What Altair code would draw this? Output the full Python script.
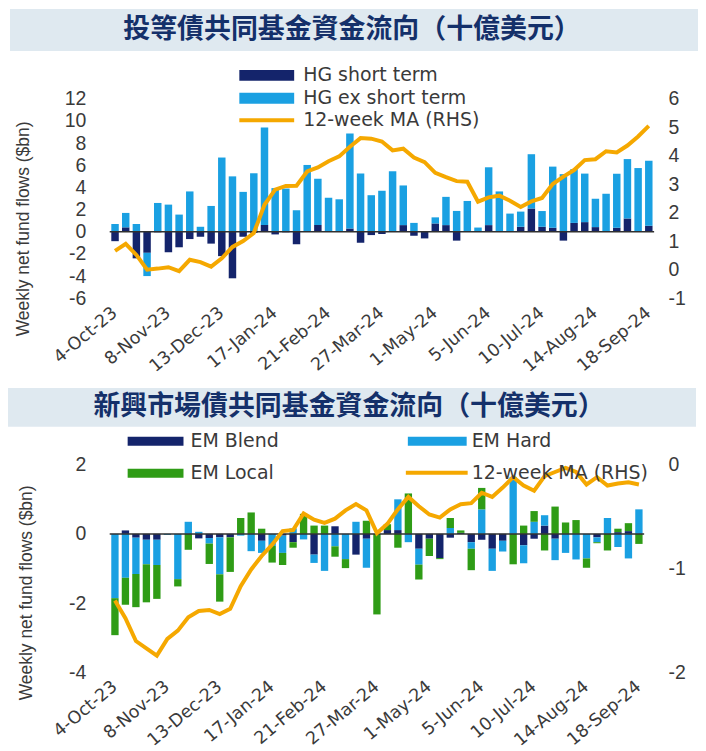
import altair as alt
import pandas as pd

# ---------------- data ----------------
start = pd.Timestamp("2023-10-04")
dates = [start + pd.Timedelta(weeks=i) for i in range(51)]
date_labels = [f"{d.day}-{d.strftime('%b-%y')}" for d in dates]
tick_labels = date_labels[::5]

title_top = "投等債共同基金資金流向（十億美元）"
title_bottom = "新興市場債共同基金資金流向（十億美元）"
y_title = "Weekly net fund flows ($bn)"
ma_label = "12-week MA (RHS)"

hg_series = ["HG short term", "HG ex short term"]
hg_short = [-0.85, 0.4, -2.4, -1.9, -0.05, -1.85, -1.4, -0.66, -0.45, -1.07,
            -2.2, -4.2, -0.45, -0.1, 0.6, -0.24, -0.05, -1.13, 0.0, 0.6,
            0.0, 0.0, 0.3, -1.0, -0.3, -0.2, 0.0, 0.6, -0.36, -0.6,
            0.75, 0.6, -0.8, 0.0, 0.05, 0.6, 0.0, 0.0, 0.45, 2.1,
            0.45, 0.36, -0.8, 0.8, 0.87, 0.42, 0.05, 0.36, 1.2, 0.05, 0.54]
hg_ex = [0.7, 1.3, 0.7, -2.1, 2.6, 2.45, 1.55, 3.64, 0.45, 2.33,
         6.7, 5.0, 3.6, 5.28, 8.8, 3.94, 3.9, 1.94, 6.03, 4.18,
         3.07, 2.93, 8.57, 5.25, 3.3, 3.7, 5.46, 3.58, 0.8, 0.0,
         0.55, 2.55, 1.88, 2.78, 0.33, 5.22, 3.64, 1.64, 1.37, 4.9,
         1.42, 5.52, 5.2, 4.85, 4.38, 2.56, 3.38, 4.88, 5.36, 5.7, 5.87]
hg_ma = [0.66, 0.91, 0.52, 0.0, 0.04, 0.09, -0.05, 0.35, 0.27, 0.11,
         0.40, 0.80, 1.01, 1.29, 2.28, 2.81, 2.94, 2.95, 3.45, 3.59,
         3.81, 3.98, 4.32, 4.62, 4.60, 4.50, 4.19, 4.25, 3.94, 3.78,
         3.40, 3.25, 3.11, 3.09, 2.39, 2.54, 2.60, 2.42, 2.20, 2.40,
         2.52, 3.01, 3.27, 3.50, 3.85, 3.88, 4.16, 4.12, 4.36, 4.68, 5.05]

em_series = ["EM Blend", "EM Hard", "EM Local"]
em_blend = [0.0, 0.1, -0.11, -0.17, -0.17, 0.0, 0.0, 0.0, -0.13, -0.12,
            -0.1, -0.1, 0.0, 0.0, -0.2, 0.0, -0.05, -0.24, 0.0, -0.6,
            0.0, 0.22, 0.0, -0.6, -0.14, 0.0, 0.11, 0.11, 0.0, -0.43,
            -0.14, -0.7, -0.11, 0.03, -0.24, -0.17, -0.43, -0.2, 0.0, -0.33,
            -0.14, 0.24, -0.14, 0.0, 0.0, 0.0, -0.1, 0.0, 0.05, 0.08, 0.0]
em_hard = [-1.86, -1.27, -1.05, -0.71, -0.73, -0.03, -1.31, 0.35, 0.06, -0.16,
           -1.07, 0.0, -0.05, -0.5, -0.35, -0.35, -0.5, 0.16, -0.16, -0.24,
           -1.07, -0.36, -0.73, 0.35, -0.84, 0.0, 0.0, 0.89, -0.24, -0.46,
           0.0, 0.0, 0.17, 0.0, -0.19, 0.71, -0.64, -0.31, 1.65, -0.52,
           0.35, 0.3, -0.62, -0.55, -0.74, -0.71, -0.14, 0.46, -0.38, -0.71, 0.71]
em_local = [-1.07, -0.78, -0.96, -1.1, -0.98, 0.0, -0.21, -0.46, 0.0, -0.59,
            -0.79, -1.0, 0.46, 0.62, 0.15, -0.48, -0.35, -0.16, 0.58, 0.24,
            0.24, -0.3, -0.26, 0.0, 0.38, -2.33, 0.17, -0.4, 1.17, -0.43,
            -0.5, -0.03, 0.29, 0.07, -0.62, 0.62, 0.0, 0.0, -0.88, 0.24,
            0.31, -0.48, 0.79, 0.33, 0.4, -0.27, -0.03, -0.48, 0.1, 0.23, -0.29]
em_ma = [-1.31, -1.48, -1.70, -1.77, -1.84, -1.68, -1.60, -1.47, -1.41, -1.40,
         -1.44, -1.39, -1.17, -1.01, -0.88, -0.77, -0.64, -0.63, -0.47, -0.53,
         -0.56, -0.52, -0.44, -0.38, -0.44, -0.66, -0.57, -0.43, -0.31, -0.40,
         -0.48, -0.51, -0.43, -0.38, -0.37, -0.27, -0.31, -0.22, -0.12, -0.20,
         -0.25, -0.11, -0.07, -0.03, -0.07, -0.19, -0.12, -0.20, -0.18, -0.17, -0.19]

# ---------------- style ----------------
NAVY = "#14246b"
LBLUE = "#1aa0e2"
GREEN = "#2f9c16"
ORANGE = "#f5a800"
TITLE_BG = "#dfe9f0"
TITLE_FG = "#14306a"
TXT = "#3a3a3a"
LAT = "Liberation Sans"
WIDE = "DejaVu Sans"
CJK = "Noto Sans CJK TC"
PLAIN = "'' + datum.value"


def long_df(names, arrays):
    rows = []
    for k, (name, arr) in enumerate(zip(names, arrays)):
        for lab, v in zip(date_labels, arr):
            rows.append({"date": lab, "series": name, "value": v, "k": k})
    return pd.DataFrame(rows)


one = pd.DataFrame({"a": [0]})


def x_enc():
    return alt.X("date:N", sort=date_labels, title=None,
                 scale=alt.Scale(paddingInner=0.3, paddingOuter=0.15),
                 axis=alt.Axis(values=tick_labels, labelAngle=-40, labelFont=WIDE,
                               labelFontSize=17.5, labelColor=TXT, labelPadding=12,
                               labelAlign="right", labelBaseline="middle",
                               ticks=False, domain=False, grid=False, labelOverlap=False))


def left_axis(vals, tx, ty):
    return alt.Axis(values=vals, title=y_title, titleFont=LAT, titleFontSize=17.5,
                    titleFontWeight="normal", titleColor=TXT, titleAngle=-90,
                    titleX=tx, titleY=ty, titleAlign="center", titleBaseline="middle",
                    labelFont=LAT, labelFontSize=19.5, labelColor=TXT, labelPadding=24,
                    labelExpr=PLAIN, labelOverlap=False, labelSeparation=-10,
                    ticks=False, domain=False, grid=False)


def right_axis(vals, pad):
    return alt.Axis(values=vals, title=None, orient="right", labelFont=LAT,
                    labelFontSize=19.5, labelColor=TXT, labelPadding=pad,
                    labelExpr=PLAIN, labelOverlap=False,
                    ticks=False, domain=False, grid=False)


def rect(x1, x2, y1, y2, color):
    return alt.Chart(one).mark_rect(color=color).encode(
        x=alt.value(x1), x2=alt.value(x2), y=alt.value(y1), y2=alt.value(y2))


def label(x, y, text, **kw):
    return alt.Chart(one).mark_text(align="left", baseline="middle", font=WIDE,
                                    fontSize=19, color=TXT, **kw).encode(
        x=alt.value(x), y=alt.value(y), text=alt.value(text))


def title_box(x1, x2, y1, y2, cx, text):
    bg = rect(x1, x2, y1, y2, TITLE_BG)
    tt = alt.Chart(one).mark_text(align="center", baseline="middle", font=CJK,
                                  fontWeight="bold", fontSize=27, color=TITLE_FG).encode(
        x=alt.value(cx), y=alt.value((y1 + y2) / 2), text=alt.value(text))
    return [bg, tt]


def ma_line(x1, x2, y):
    return alt.Chart(one).mark_rule(color=ORANGE, strokeWidth=4).encode(
        x=alt.value(x1), x2=alt.value(x2), y=alt.value(y))


def panel(df_bars, names, colors, df_ma, ldom, lvals, rdom, rvals, rpad, tx, ty,
          deco, width, height):
    yscale = alt.Scale(domain=ldom, nice=False)
    laxis = left_axis(lvals, tx, ty)
    bars = alt.Chart(df_bars).mark_bar().encode(
        x=x_enc(),
        y=alt.Y("value:Q", scale=yscale, axis=laxis),
        color=alt.Color("series:N", scale=alt.Scale(domain=names, range=colors),
                        legend=None),
        order=alt.Order("k:Q", sort="ascending"),
    )
    zero = alt.Chart(pd.DataFrame({"value": [0]})).mark_rule(
        color="#303030", strokeWidth=1.5).encode(y=alt.Y("value:Q", scale=yscale, axis=laxis))
    line = alt.Chart(df_ma).mark_line(color=ORANGE, strokeWidth=4).encode(
        x=x_enc(),
        y=alt.Y("ma:Q", scale=alt.Scale(domain=rdom, nice=False),
                axis=right_axis(rvals, rpad)),
    )
    return alt.layer(alt.layer(bars, zero), line, *deco).resolve_scale(
        y="independent").properties(width=width, height=height)


# ---------------- top panel ----------------
df_hg = long_df(hg_series, [hg_short, hg_ex])
df_hg_ma = pd.DataFrame({"date": date_labels, "ma": hg_ma})
deco1 = title_box(-100, 590, -90, -48, 243, title_top) + [
    rect(130, 185, -29, -18, NAVY), label(194, -23.5, hg_series[0]),
    rect(130, 185, -6, 5, LBLUE), label(194, -0.5, hg_series[1]),
    ma_line(130, 185, 21.5), label(194, 21.5, ma_label),
]
top = panel(df_hg, hg_series, [NAVY, LBLUE], df_hg_ma, [-6, 12], list(range(-6, 13, 2)),
            [-1, 6], list(range(-1, 7)), 14, -86, 130, deco1, 546, 200)

# ---------------- bottom panel ----------------
df_em = long_df(em_series, [em_blend, em_hard, em_local])
df_em_ma = pd.DataFrame({"date": date_labels, "ma": em_ma})
deco2 = title_box(-102, 588, -77, -38, 240, title_bottom) + [
    rect(18, 74, -28, -19, NAVY), label(81, -23.5, em_series[0]),
    rect(299, 358, -28, -19, LBLUE), label(363, -23.5, em_series[1]),
    rect(18, 74, 4, 13, GREEN), label(81, 8.5, em_series[2]),
    ma_line(297, 359, 8), label(363, 8.5, ma_label),
]
bottom = panel(df_em, em_series, [NAVY, LBLUE, GREEN], df_em_ma, [-4, 2], [-4, -2, 0, 2],
               [-2, 0], [-2, -1, 0], 24, -83, 128, deco2, 536, 208)

chart = alt.vconcat(top, bottom, spacing=12).resolve_scale(
    color="independent").properties(padding=0).configure_view(strokeWidth=0)

chart.save("out.html", embed_options={"renderer": "svg", "actions": False})
